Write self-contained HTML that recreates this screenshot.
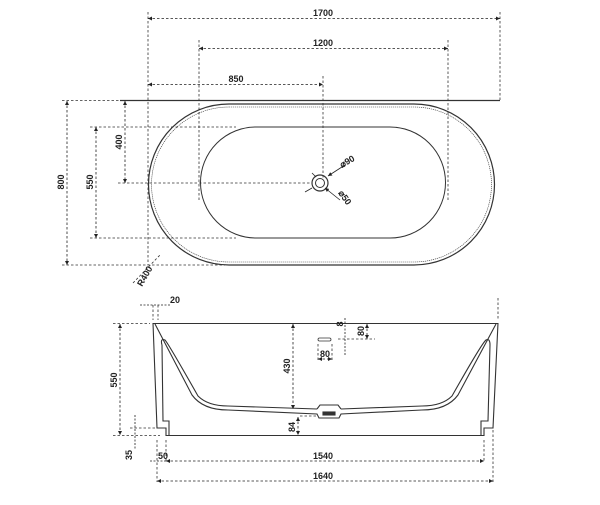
<!DOCTYPE html>
<html><head><style>
html,body{margin:0;padding:0;background:#fff;}
svg text{font-family:"Liberation Sans",sans-serif;font-size:9px;fill:#222;font-weight:bold;}
</style></head><body>
<svg width="600" height="500" viewBox="0 0 600 500" xmlns="http://www.w3.org/2000/svg">
<defs>
<marker id="a" viewBox="0 0 6 6" refX="6" refY="3" markerWidth="5" markerHeight="5" orient="auto-start-reverse"><path d="M0 0 L6 3 L0 6 Z" fill="#222"/></marker>
</defs>
<!-- TOP VIEW -->
<g fill="none" stroke="#333" stroke-width="1">
<line x1="120" y1="100.5" x2="500" y2="100.5" stroke-width="1.2"/>
<path d="M229 104 H414 A80.5 80.5 0 0 1 414 265 H229 A80.5 80.5 0 0 1 229 104 Z" stroke-width="1.2"/>
<path d="M229 107 H414 A77.5 77.5 0 0 1 414 262 H229 A77.5 77.5 0 0 1 229 107 Z" stroke-width="0.6" stroke-dasharray="1.2 0.8"/>
<path d="M256 127 H390 A55.5 55.5 0 0 1 390 238 H256 A55.5 55.5 0 0 1 256 127 Z"/>
<circle cx="320" cy="183" r="8" stroke-width="1.2"/>
<circle cx="320" cy="183" r="4.5"/>
</g>
<g fill="none" stroke="#333" stroke-width="0.8" stroke-dasharray="2.5 2">
<line x1="148" y1="12" x2="148" y2="265"/>
<line x1="500" y1="12" x2="500" y2="100"/>
<line x1="199" y1="40" x2="199" y2="200"/>
<line x1="448" y1="40" x2="448" y2="200"/>
<line x1="323" y1="76" x2="323" y2="180"/>
<line x1="62" y1="100.5" x2="120" y2="100.5"/>
<line x1="90" y1="127" x2="236" y2="127"/>
<line x1="118" y1="183" x2="310" y2="183"/>
<line x1="90" y1="238" x2="236" y2="238"/>
<line x1="62" y1="265" x2="225" y2="265"/>
<line x1="133" y1="283" x2="160" y2="255"/>
</g>
<g stroke="#222" stroke-width="0.8" stroke-dasharray="2.5 2" marker-start="url(#a)" marker-end="url(#a)">
<line x1="148" y1="18.5" x2="500" y2="18.5"/>
<line x1="199" y1="48.5" x2="448" y2="48.5"/>
<line x1="148" y1="84.5" x2="323" y2="84.5"/>
<line x1="67" y1="101" x2="67" y2="265"/>
<line x1="96" y1="127" x2="96" y2="238"/>
<line x1="125" y1="101" x2="125" y2="183"/>
</g>
<g stroke="#222" stroke-width="0.8">
<line x1="345" y1="165" x2="328" y2="176" marker-end="url(#a)"/>
<line x1="340" y1="200" x2="325" y2="188" marker-end="url(#a)"/>
<line x1="305" y1="192" x2="312" y2="188"/>
<line x1="312" y1="173" x2="316" y2="177"/>
</g>
<text x="323" y="16" text-anchor="middle">1700</text>
<text x="323" y="46" text-anchor="middle">1200</text>
<text x="236" y="82" text-anchor="middle">850</text>
<text transform="translate(64,182) rotate(-90)" text-anchor="middle">800</text>
<text transform="translate(93,182) rotate(-90)" text-anchor="middle">550</text>
<text transform="translate(122,142) rotate(-90)" text-anchor="middle">400</text>
<text transform="translate(342,168) rotate(-30)">⌀90</text>
<text transform="translate(338,193) rotate(55)">⌀50</text>
<text transform="translate(142,287) rotate(-60)">R400</text>

<!-- SIDE VIEW -->
<g fill="none" stroke="#333" stroke-width="1.1">
<line x1="153" y1="323.5" x2="498" y2="323.5"/>
<path d="M153 323 L157 428 L166 428 L166 435.5 L484 435.5 L484 428 L493 428 L498 323"/>
<path d="M155 324 L192 395 Q203 410 228 410 L317 414 L319 418 L339 418 L341 414 L422 410 Q447 410 458 395 L496 324"/>
<path d="M162 345 Q160 338 165 340 Q168 343 198 396 Q208 406 228 406 L317 409 M341 409 L422 406 Q442 406 452 396 Q482 343 486 340 Q490 338 490 345 L488 421 L481 421 L481 435"/>
<path d="M162 345 L163 421 L169 421 L169 435"/>
<path d="M317 409 L320 405 L338 405 L341 409"/>
<rect x="323" y="412" width="12" height="3" fill="#333"/>
<rect x="318" y="338" width="13" height="3" rx="1.5" stroke-width="0.8"/>
</g>
<g fill="none" stroke="#333" stroke-width="0.8" stroke-dasharray="2.5 2">
<line x1="113" y1="323.5" x2="150" y2="323.5"/>
<line x1="113" y1="435.5" x2="160" y2="435.5"/>
<line x1="130" y1="428" x2="160" y2="428"/>
<line x1="153" y1="305" x2="153" y2="320"/>
<line x1="158" y1="305" x2="158" y2="320"/>
<line x1="498" y1="298" x2="498" y2="320"/>
<line x1="157" y1="440" x2="157" y2="482"/>
<line x1="166" y1="440" x2="166" y2="462"/>
<line x1="484" y1="440" x2="484" y2="462"/>
<line x1="493" y1="430" x2="493" y2="482"/>
<line x1="300" y1="416" x2="316" y2="416"/>
<line x1="338" y1="339" x2="375" y2="339"/>
<line x1="318" y1="344" x2="318" y2="362"/>
<line x1="332" y1="344" x2="332" y2="362"/>
</g>
<g stroke="#222" stroke-width="0.8" stroke-dasharray="2.5 2" marker-start="url(#a)" marker-end="url(#a)">
<line x1="120" y1="324" x2="120" y2="435"/>
<line x1="293" y1="324" x2="293" y2="409"/>
<line x1="298" y1="417" x2="298" y2="435"/>
<line x1="166" y1="461" x2="484" y2="461"/>
<line x1="157" y1="481" x2="493" y2="481"/>
<line x1="318" y1="359" x2="332" y2="359"/>
<line x1="367" y1="324" x2="367" y2="339"/>
</g>
<g stroke="#222" stroke-width="0.8" stroke-dasharray="2 1.5">
<line x1="140" y1="305" x2="170" y2="305"/>
<line x1="135" y1="415" x2="135" y2="450"/>
<line x1="345" y1="318" x2="345" y2="355"/>
<line x1="150" y1="461" x2="166" y2="461"/>
</g>
<text x="170" y="303">20</text>
<text transform="translate(117,380) rotate(-90)" text-anchor="middle">550</text>
<text transform="translate(290,366) rotate(-90)" text-anchor="middle">430</text>
<text transform="translate(295,427) rotate(-90)" text-anchor="middle">84</text>
<text transform="translate(132,455) rotate(-90)" text-anchor="middle">35</text>
<text transform="translate(364,331) rotate(-90)" text-anchor="middle">80</text>
<text transform="translate(343,324) rotate(-90)" text-anchor="middle">8</text>
<text x="325" y="357" text-anchor="middle">80</text>
<text x="163" y="459" text-anchor="middle">50</text>
<text x="323" y="459" text-anchor="middle">1540</text>
<text x="323" y="479" text-anchor="middle">1640</text>
</svg>
</body></html>
